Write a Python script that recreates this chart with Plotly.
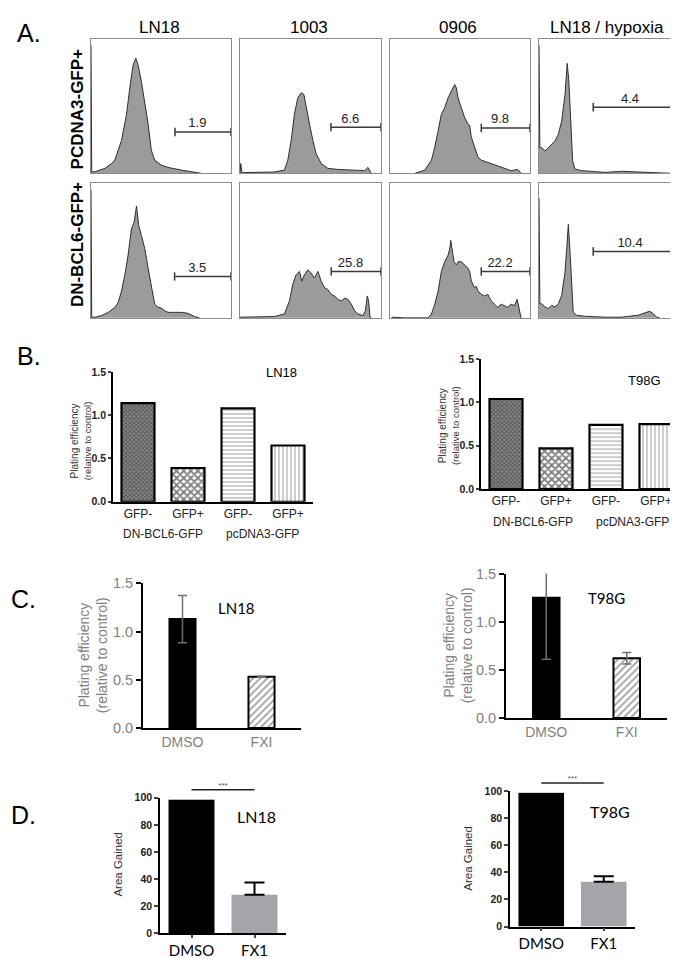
import plotly.graph_objects as go

W, H = 678, 959

# ---------------- Panel A: GFP histograms (x = % of axis, y = % of max) ----------------
hist_cols = ["LN18", "1003", "0906", "LN18 / hypoxia"]
hist_rows = ["PCDNA3-GFP+", "DN-BCL6-GFP+"]

pc_ln18_x = [0, 0.5, 2.8, 10, 14.7, 17, 21.8, 25.4, 27.7, 30.1, 32, 33.6, 36, 38.4, 40.8, 43.1, 45.5, 50.2, 55, 64.5, 73.9, 78.7]
pc_ln18_y = [95, 1, 1.2, 3.7, 7.3, 9.8, 24.4, 43.9, 63.4, 80.5, 85.4, 80.5, 68.3, 53.7, 36.6, 17.1, 9.8, 6.1, 4.4, 2.4, 0.7, 0]

pc_1003_x = [0, 0.5, 1.4, 14.9, 24.4, 31.5, 33.9, 36.3, 38.6, 41, 43.4, 45.3, 46.9, 49.3, 51.7, 54, 57.6, 62.3, 69.4, 81.3, 88.4, 90.8, 91.9, 93.1]
pc_1003_y = [0, 7.3, 0.5, 0.5, 1, 2.4, 9.8, 24.4, 43.9, 56.1, 59.8, 58.5, 48.8, 36.6, 24.4, 14.6, 7.3, 3.7, 2.9, 2.4, 2, 4.4, 2.4, 0]

pc_0906_x = [17.8, 24.9, 29.6, 32, 34.4, 36.7, 39.1, 41.5, 43.8, 46.2, 47.4, 48.6, 50.9, 53.3, 55.7, 56.9, 58.1, 60.4, 62.8, 65.2, 68.7, 72.3, 77, 81.8, 86.5, 91.2, 93.6]
pc_0906_y = [0, 2.4, 9.8, 19.5, 31.7, 43.9, 48.8, 56.1, 61, 65.9, 63.4, 56.1, 48.8, 41.5, 36.6, 35.4, 26.8, 19.5, 12.2, 9.8, 8.5, 7.3, 5.4, 3.7, 2, 2.9, 0]

pc_hyp_x = [0, 0.6, 1.9, 4.3, 6.7, 9.1, 11.5, 13.9, 16.3, 18.7, 20.3, 21.5, 23, 24.2, 25.8, 30.6, 47.4, 59.3, 71.3, 83.3, 95.2]
pc_hyp_y = [95, 19.1, 19.1, 16.7, 19.1, 21.6, 24, 28.9, 38.7, 58.3, 81.6, 68.1, 31.4, 9.3, 3.2, 2, 0.7, 1.5, 1, 0.5, 0]

dn_ln18_x = [0, 0.5, 2.8, 7.6, 12.3, 17.1, 19.4, 21.8, 24.2, 26.5, 28.9, 30.8, 32.5, 34.1, 36, 38.4, 40.8, 43.1, 45.5, 47.9, 50.2, 52.6, 55, 59.7, 64.5, 69.2, 73.9, 77.5]
dn_ln18_y = [95, 0.5, 0.5, 1.7, 4.1, 7.8, 11.4, 19.9, 32, 46.6, 66, 70.9, 83, 68.4, 61.2, 51.5, 36.9, 22.3, 10.2, 7.8, 7.3, 5.3, 4.1, 4.1, 4.1, 3.4, 1, 0]

dn_1003_x = [0, 19.7, 24.4, 31.5, 35.1, 37.4, 39.8, 42.2, 43.8, 45.7, 48.1, 50.5, 52.8, 55.2, 57.6, 60, 62.3, 64.7, 67.1, 69.4, 71.8, 74.2, 76.5, 78.9, 81.3, 83.6, 87.2, 88.9, 90.3, 91.2, 92.2, 93.1]
dn_1003_y = [0.5, 0.5, 1, 2.9, 12.6, 24.8, 32, 34.5, 27.2, 32, 35.7, 33.3, 29.6, 34.5, 27.2, 22.3, 21.1, 17.5, 16.3, 13.8, 12.6, 14.6, 13.8, 10.2, 5.3, 2.9, 1.7, 5.3, 16.3, 12.6, 0.5, 0]

dn_0906_x = [1.2, 10.7, 27.3, 29.6, 32, 34.4, 36.7, 39.1, 41.5, 42.7, 43.4, 44.3, 45.7, 47.4, 48.6, 50.9, 53.3, 55.7, 56.9, 58.1, 60.4, 61.6, 62.8, 65.2, 67.5, 69.9, 71.1, 72.3, 74.6, 77, 79.4, 81.8, 84.1, 86.5, 88.9, 90.8, 91.7, 93.1, 93.6]
dn_0906_y = [0.5, 0, 0, 2.9, 10.2, 19.9, 34.5, 41.7, 46.6, 51.5, 57.5, 51.5, 41.7, 39.3, 41.7, 41.7, 39.3, 36.9, 34.5, 27.2, 22.3, 23.5, 19.9, 17.5, 16.3, 17.5, 15, 12.6, 10.2, 7.8, 10.2, 9, 7.8, 10.2, 9, 13.8, 9, 0.5, 0]

dn_hyp_x = [0, 0.6, 1.9, 4.3, 6.7, 9.1, 11.5, 13.9, 16.3, 18.7, 19.9, 21.1, 22.2, 23.4, 24.6, 27, 33, 47.4, 59.3, 71.3, 76.1, 79.7, 82.1, 84.4, 86.8]
dn_hyp_y = [89, 10.5, 10.5, 8.1, 6.9, 9.3, 8.1, 10.5, 16.7, 33.8, 51, 69.4, 51, 21.6, 4.4, 2, 1.2, 0.5, 0.5, 2, 3.9, 4.9, 3.2, 0.7, 0]

hist_x = [[pc_ln18_x, pc_1003_x, pc_0906_x, pc_hyp_x], [dn_ln18_x, dn_1003_x, dn_0906_x, dn_hyp_x]]
hist_y = [[pc_ln18_y, pc_1003_y, pc_0906_y, pc_hyp_y], [dn_ln18_y, dn_1003_y, dn_0906_y, dn_hyp_y]]

gate_start = [[60, 64.5, 65.2, 39], [59.7, 64.7, 65.2, 39]]
gate_level = [[30.7, 34.3, 33.7, 49], [30.8, 34.5, 34.5, 49.3]]
gate_pct = [["1.9", "6.6", "9.8", "4.4"], ["3.5", "25.8", "22.2", "10.4"]]

# ---------------- Panel B ----------------
b_categories = ["GFP-", "GFP+", "GFP-", "GFP+"]
b_groups = ["DN-BCL6-GFP", "pcDNA3-GFP"]
b_ln18 = [1.14, 0.39, 1.08, 0.65]
b_t98g = [1.04, 0.47, 0.74, 0.75]

# ---------------- Panel C ----------------
c_categories = ["DMSO", "FXI"]
c_ln18 = [1.13, 0.53]
c_ln18_err = [0.245, 0.005]
c_t98g = [1.25, 0.62]
c_t98g_err = [0.64, 0.06]

# ---------------- Panel D ----------------
d_categories = ["DMSO", "FX1"]
d_ln18 = [100, 28.5]
d_ln18_err = [0, 9]
d_t98g = [100, 33]
d_t98g_err = [0, 4]

ARIAL = "Liberation Sans"
CAL = "Lato"


def xd(a, b):
    return [a / W, b / W]


def yd(top, bottom):
    return [1 - bottom / H, 1 - top / H]


fig = go.Figure()
layout = dict(width=W, height=H, margin=dict(l=0, r=0, t=0, b=0),
              paper_bgcolor="white", plot_bgcolor="white", showlegend=False,
              font=dict(family=ARIAL, color="black"))
annotations = []


def ann(text, cx, cy, size, family=ARIAL, color="black", angle=0, weight="normal"):
    annotations.append(dict(text=text, x=cx / W, y=1 - cy / H, xref="paper", yref="paper",
                            xanchor="center", yanchor="middle", showarrow=False, textangle=angle,
                            font=dict(size=size, family=family, color=color, weight=weight)))


def set_axes(n, xdom, ydom, xkw, ykw):
    s = "" if n == 1 else str(n)
    layout["xaxis" + s] = dict(domain=xdom, anchor="y" + s, showgrid=False, zeroline=False, fixedrange=True, **xkw)
    layout["yaxis" + s] = dict(domain=ydom, anchor="x" + s, showgrid=False, zeroline=False, fixedrange=True, **ykw)
    return "x" + s, "y" + s


# ---- Panel A ----
col_px = [(83, 223), (232, 373), (382, 522), (531, 670)]
row_px = [(23, 160), (170, 307)]
box = dict(range=[0, 100], showline=True, mirror=True, linecolor="#8c8c8c", linewidth=1,
           showticklabels=False, ticks="")
n = 1
for r in range(2):
    for c in range(4):
        xa, ya = set_axes(n, xd(*col_px[c]), yd(*row_px[r]), dict(box), dict(box))
        fig.add_trace(go.Scatter(x=hist_x[r][c], y=hist_y[r][c], mode="lines", fill="tozeroy",
                                 fillcolor="#9b9b9b", line=dict(color="#2e2e2e", width=1),
                                 xaxis=xa, yaxis=ya, hoverinfo="skip"))
        gs, gl = gate_start[r][c], gate_level[r][c]
        fig.add_trace(go.Scatter(x=[gs, 100], y=[gl, gl], mode="lines+markers",
                                 line=dict(color="#3a3a3a", width=1.5),
                                 marker=dict(symbol="line-ns", size=6, line=dict(width=1.5, color="#3a3a3a")),
                                 cliponaxis=False, xaxis=xa, yaxis=ya, hoverinfo="skip"))
        fig.add_trace(go.Scatter(x=[(gs + 100) / 2 - 4], y=[gl + 1], mode="text", text=[gate_pct[r][c]],
                                 textposition="top center", textfont=dict(size=13, color="#222", family=ARIAL),
                                 cliponaxis=False, xaxis=xa, yaxis=ya, hoverinfo="skip"))
        n += 1

ann("A.", 21, 17, 25)
for c, t in enumerate(hist_cols):
    ann(t, (col_px[c][0] + col_px[c][1]) / 2 - 2, 12, 17)
ann(hist_rows[0], 69, 95, 17, angle=-90, weight="bold")
ann(hist_rows[1], 69, 233, 17, angle=-90, weight="bold")

# ---- Panel B ----
b_pattern = dict(shape=["x", "x", "-", "|"], fgcolor=["#1e1e1e", "black", "#555", "#555"],
                 bgcolor=["#8a8a8a", "white", "white", "white"], size=[3, 5, 4, 4],
                 solidity=[0.5, 0.6, 0.3, 0.3])
b_specs = [(9, (105, 305), (362, 494), b_ln18, "LN18", (273, 363), (72.5, 432), [(155, 527), (254, 527)]),
           (10, (473, 673), (349, 481), b_t98g, "T98G", (636, 371), (441, 417), [(525, 515), (624, 515)])]
for nn, xr, yr, vals, name, tpos, ypos, gpos in b_specs:
    xa, ya = set_axes(nn, xd(*xr), yd(*yr),
                      dict(range=[-0.5, 3.5], tickvals=list(range(len(b_categories))), ticktext=b_categories,
                           ticks="", showline=True, linecolor="black", linewidth=1.5,
                           tickfont=dict(size=12, color="#222")),
                      dict(range=[0, 1.5], dtick=0.5, tickformat=".1f", ticks="outside", ticklen=3,
                           tickwidth=1.5, showline=True, linecolor="black", linewidth=1.5,
                           tickfont=dict(size=10.5, weight="bold", color="#222")))
    fig.add_trace(go.Bar(x=list(range(len(vals))), y=vals, width=0.66, xaxis=xa, yaxis=ya,
                         marker=dict(color="white", line=dict(color="black", width=2.2), pattern=b_pattern),
                         hoverinfo="skip"))
    ann(name, tpos[0], tpos[1], 13)
    ann("Plating efficiency<br><span style='font-size:9.5px'>(relative to control)</span>",
        ypos[0], ypos[1], 10, color="#333", angle=-90)
    for g, (gx, gy) in zip(b_groups, gpos):
        ann(g, gx, gy, 12, color="#222")
ann("B.", 21, 346, 25)

# ---- Panel C ----
c_specs = [(11, (135, 293), (577, 724), c_ln18, c_ln18_err, "LN18", (228, 602), (85, 650)),
           (12, (498, 659), (567, 714), c_t98g, c_t98g_err, "T98G", (598, 592), (450, 640))]
for nn, xr, yr, vals, errs, name, tpos, ypos in c_specs:
    xa, ya = set_axes(nn, xd(*xr), yd(*yr),
                      dict(range=[-0.5, 1.5], tickvals=[0, 1], ticktext=c_categories, ticks="",
                           showline=True, linecolor="black", linewidth=2,
                           tickfont=dict(size=14, color="#808080")),
                      dict(range=[0, 1.5], dtick=0.5, tickformat=".1f", ticks="outside", ticklen=5,
                           tickwidth=1.5, tickcolor="black", showline=True, linecolor="black", linewidth=2,
                           tickfont=dict(size=14.5, color="#808080")))
    fig.add_trace(go.Bar(x=[0, 1], y=vals, width=0.33, xaxis=xa, yaxis=ya,
                         marker=dict(color=["black", "white"], line=dict(color="black", width=2),
                                     pattern=dict(shape=["", "/"], fgcolor="#555", bgcolor="white",
                                                  size=5, solidity=0.35)),
                         error_y=dict(type="data", array=errs, color="#6e6e6e", thickness=1.5, width=4.5),
                         hoverinfo="skip"))
    ann(name, tpos[0], tpos[1], 15, family=CAL)
    ann("Plating efficiency<br>(relative to control)", ypos[0], ypos[1], 14, color="#808080", angle=-90)
ann("C.", 15, 593, 25)

# ---- Panel D ----
d_specs = [(13, (152, 278), (795, 933), d_ln18, d_ln18_err, "LN18", (248, 814), (110, 863), 15, (777, 797)),
           (14, (502, 627), (788, 926), d_t98g, d_t98g_err, "T98G", (602, 809), (460, 857), 16, (770, 790))]
for nn, xr, yr, vals, errs, name, tpos, ypos, sn, sr in d_specs:
    xa, ya = set_axes(nn, xd(*xr), yd(*yr),
                      dict(range=[-0.5, 1.5], tickvals=[0, 1], ticktext=d_categories, ticks="outside",
                           ticklen=3, tickwidth=1.5, showline=True, linecolor="black", linewidth=1.5,
                           tickfont=dict(size=15, family=CAL, color="black")),
                      dict(range=[0, 100], dtick=20, ticks="outside", ticklen=4, tickwidth=1.5,
                           showline=True, linecolor="black", linewidth=1.5,
                           tickfont=dict(size=10.5, weight="bold", color="#222")))
    fig.add_trace(go.Bar(x=[0, 1], y=vals, width=0.73, xaxis=xa, yaxis=ya,
                         marker=dict(color=["black", "#a5a5a9"], line=dict(width=0)),
                         error_y=dict(type="data", symmetric=False, array=errs, arrayminus=[0, 0],
                                      color="black", thickness=2, width=10),
                         hoverinfo="skip"))
    ann(name, tpos[0], tpos[1], 16, family=CAL)
    ann("Area Gained", ypos[0], ypos[1], 11.5, color="#333", angle=-90)
    # significance bracket
    sxa, sya = set_axes(sn, xd(*xr), yd(*sr), dict(range=[-0.5, 1.5], visible=False),
                        dict(range=[-1, 1], visible=False))
    fig.add_trace(go.Scatter(x=[0, 1], y=[0, 0], mode="lines", line=dict(color="#222", width=1.5),
                             xaxis=sxa, yaxis=sya, hoverinfo="skip"))
    fig.add_trace(go.Scatter(x=[0.5], y=[0], mode="text", text=["***"], textposition="top center",
                             textfont=dict(size=8, color="#555"), cliponaxis=False,
                             xaxis=sxa, yaxis=sya, hoverinfo="skip"))
ann("D.", 15, 813, 25)

layout["annotations"] = annotations
fig.update_layout(**layout)
fig.write_html("out.html")
